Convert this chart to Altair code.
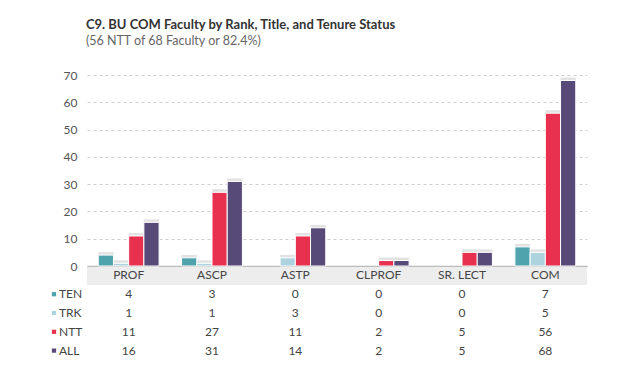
import altair as alt
import pandas as pd

categories = ["PROF", "ASCP", "ASTP", "CLPROF", "SR. LECT", "COM"]
series = ["TEN", "TRK", "NTT", "ALL"]
ten = [4, 3, 0, 0, 0, 7]
trk = [1, 1, 3, 0, 0, 5]
ntt = [11, 27, 11, 2, 5, 56]
all_ = [16, 31, 14, 2, 5, 68]
colors = ["#4fa3ad", "#add3df", "#e8304f", "#584a78"]

rows = []
for s, vals in zip(series, [ten, trk, ntt, all_]):
    for c, v in zip(categories, vals):
        rows.append({"cat": c, "series": s, "value": v, "label": str(v)})
df = pd.DataFrame(rows)
hdr = pd.DataFrame({"cat": categories, "series": ["hdr"] * len(categories), "label": categories})
leg = pd.DataFrame({"series": series})

FONT = "Lato"
W = 500
color_scale = alt.Scale(domain=series, range=colors)
xenc = alt.X("cat:N", sort=categories, scale=alt.Scale(domain=categories, paddingInner=0.27, paddingOuter=0.135),
             axis=alt.Axis(labels=False, ticks=False, title=None, domainColor="#bbbbbb", domainWidth=1.5,
                           minExtent=0, maxExtent=0))
xoff = alt.XOffset("series:N", sort=series, scale=alt.Scale(domain=series))
yenc_bar = alt.Y("value:Q", scale=alt.Scale(domain=[0, 70]),
                 axis=alt.Axis(values=[0, 10, 20, 30, 40, 50, 60, 70], title=None, domain=False, ticks=False,
                               labelPadding=10, labelFontSize=12, labelColor="#555555", labelFont=FONT,
                               gridDash=[3, 3], gridColor="#cfcfcf"))

base = alt.Chart(df).transform_filter("datum.value > 0")
shadow = base.mark_bar(color="#e2e2e2", yOffset=-3, xOffset=1).encode(
    x=xenc, xOffset=xoff, y=yenc_bar,
)
bars = base.mark_bar(stroke="white", strokeWidth=1).encode(
    x=xenc, xOffset=xoff, y=yenc_bar,
    color=alt.Color("series:N", scale=color_scale, legend=None),
)
top = alt.layer(shadow, bars).properties(width=W, height=191)

row_dom = ["hdr"] + series
yenc = alt.Y("series:N", sort=row_dom, scale=alt.Scale(domain=row_dom, type="point", padding=0.5), axis=None)
xenc2 = alt.X("cat:N", sort=categories, scale=alt.Scale(domain=categories, type="point", padding=0.5), axis=None)

band = alt.Chart(hdr).mark_rect(color="#ededed").encode(
    x=alt.value(0), x2=alt.value(W), y=alt.value(1.5), y2=alt.value(19)
)
hdr_text = alt.Chart(hdr).mark_text(fontSize=12, font=FONT, color="#444444").encode(
    x=xenc2, y=yenc, text="label:N"
)
vals = alt.Chart(df).mark_text(fontSize=12, font=FONT, color="#444444").encode(
    x=xenc2, y=yenc, text="label:N"
)
leg_sq = alt.Chart(leg).mark_square(size=18, opacity=1).encode(
    x=alt.value(-33), y=yenc, color=alt.Color("series:N", scale=color_scale, legend=None)
)
leg_txt = alt.Chart(leg).mark_text(fontSize=12, font=FONT, color="#444444", align="left").encode(
    x=alt.value(-28), y=yenc, text="series:N"
)
bottom = alt.layer(band, hdr_text, vals, leg_sq, leg_txt).properties(width=W, height=94)

chart = alt.vconcat(top, bottom, spacing=0, bounds="flush").properties(
    title=alt.TitleParams(
        "C9. BU COM Faculty by Rank, Title, and Tenure Status",
        subtitle="(56 NTT of 68 Faculty or 82.4%)",
        anchor="start", dx=34, font=FONT, fontSize=13, fontWeight="bold", color="#333333",
        subtitleFont=FONT, subtitleFontSize=12.5, subtitleColor="#666666", offset=22,
    ),
    padding={"left": 43, "top": 10, "right": 5, "bottom": 5},
).configure_view(stroke=None).configure_concat(spacing=0)

chart.save("out.html", embed_options={"renderer": "svg", "actions": False})
